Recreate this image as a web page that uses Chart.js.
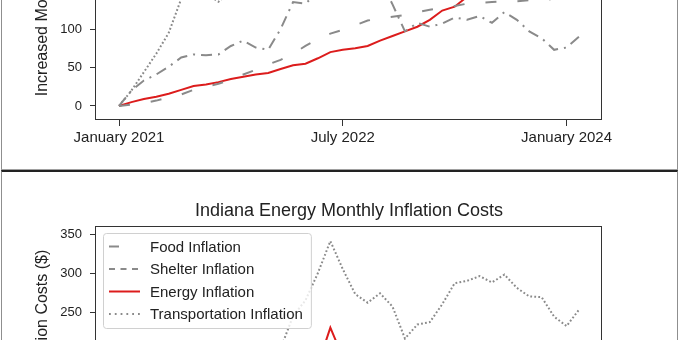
<!DOCTYPE html>
<html>
<head>
<meta charset="utf-8">
<title>Indiana Monthly Inflation Costs</title>
<script src="https://cdn.jsdelivr.net/npm/chart.js@4.4.1/dist/chart.umd.min.js"></script>
<style>
    body { margin: 0; width: 680px; height: 340px; overflow: hidden; background: #fff; position: relative; }
    .panel { position: absolute; left: 1px; width: 675px; background: #fff;
             border-left: 1px solid #8f8f8f; border-right: 1px solid #8f8f8f; }
    #p1 { top: -260px; height: 428px; border-top: 1px solid #8f8f8f; border-bottom: 1px solid #a0a0a0; }
    #p2 { top: 170px; height: 420px; border-top: 2px solid #222; }
    canvas { display: block; }
</style>
</head>
<body>
<div class="panel" id="p1"><canvas id="topChart" width="675" height="428"></canvas></div>
<div class="panel" id="p2"><canvas id="bottomChart" width="675" height="420"></canvas></div>
<script>
// monthly points, Jan 2021 .. Feb 2024
var months = ['Jan 2021','Feb 2021','Mar 2021','Apr 2021','May 2021','Jun 2021','Jul 2021','Aug 2021','Sep 2021','Oct 2021','Nov 2021','Dec 2021',
              'Jan 2022','Feb 2022','Mar 2022','Apr 2022','May 2022','Jun 2022','Jul 2022','Aug 2022','Sep 2022','Oct 2022','Nov 2022','Dec 2022',
              'Jan 2023','Feb 2023','Mar 2023','Apr 2023','May 2023','Jun 2023','Jul 2023','Aug 2023','Sep 2023','Oct 2023','Nov 2023','Dec 2023',
              'Jan 2024','Feb 2024'];
var tickIdx = [0, 18, 36];
var tickLabels = ['January 2021', 'July 2022', 'January 2024'];
var yTicks = [0, 50, 100, 150, 200, 250, 300, 350];
var seriesNames = ['Food Inflation', 'Shelter Inflation', 'Energy Inflation', 'Transportation Inflation'];

// upper chart (cropped at the top)
var foodTop    = [0, 20, 33, 41, 51, 63, 67, 66, 67, 78, 85, 76, 73, 100, 135, 133, 148, 160, 155, 150, 158, 165, 132, 97, 108, 103, 107, 115, 112, 117, 108, 122, 112, 97, 88, 73, 76, 90];
var shelterTop = [0, 2, 4, 7, 11, 15, 21, 25, 29, 34, 41, 47, 54, 60, 68, 78, 87, 94, 99, 105, 111, 114, 116, 118, 122, 125, 128, 130, 133, 134, 135, 136, 136, 137.5, 136, 140, 143, 146];
var energyTop  = [0, 5, 9, 12, 16, 21, 26, 28, 31, 35, 38, 41, 43, 48, 53, 55, 62, 70, 73, 75, 78, 85, 91, 97, 103, 112, 124, 129, 142, 148, 153, 160, 166, 172, 178, 184, 190, 196];
var transTop   = [0, 20, 44, 68, 95, 139, 152, 146, 135.5, 148, 175, 200, 228, 255, 280, 300, 330, 364, 340, 318, 305, 315, 300, 270, 280, 285, 300, 320, 325, 332, 325, 340, 320, 305, 300, 285, 270, 290];

// Indiana energy chart (cropped at the bottom)
var foodIN    = [0, 3, 6, 9, 14, 20, 26, 30, 35, 42, 50, 58, 66, 74, 80, 86, 92, 97, 102, 108, 112, 116, 118, 121, 124, 126, 128, 130, 132, 134, 136, 138, 140, 141, 143, 144, 145, 147];
var shelterIN = [0, 2, 5, 8, 12, 16, 20, 25, 30, 36, 42, 48, 54, 61, 68, 75, 82, 90, 97, 104, 110, 116, 122, 128, 134, 139, 144, 149, 153, 157, 161, 165, 168, 172, 175, 178, 181, 184];
var energyIN  = [0, 8, 15, 28, 40, 52, 60, 75, 90, 100, 112, 125, 130, 150, 160, 172, 182, 230, 192, 170, 140, 120, 95, 70, 60, 40, 20, 15, 5, -5, -17, -10, 0, 10, 5, -8, 10, 30];
var transIN   = [0, 15, 35, 60, 85, 110, 130, 145, 160, 172, 185, 195, 200, 203, 245, 265, 300, 341, 305, 273, 262, 274, 257, 216, 234, 237, 260, 287, 290, 296, 288, 298, 281, 270, 269, 244, 232, 253];

Chart.defaults.font.family = '"Liberation Sans", Arial, sans-serif';
Chart.defaults.color = '#222';

var GRAY = '#8a8a8a', RED = '#dc1c1c';

function points(arr) {
    return arr.map(function (v, i) { return { x: i, y: v }; });
}

function makeSets(vals, dashes) {
    var colors = [GRAY, GRAY, RED, GRAY];
    var legendDash = [[10, 100], [6, 5.5], [], [1.8, 4]];
    return vals.map(function (arr, k) {
        return {
            label: seriesNames[k],
            data: points(arr),
            borderColor: colors[k],
            borderWidth: 2,
            borderDash: dashes[k],
            legendDash: legendDash[k],
            pointRadius: 0,
            tension: 0,
            fill: false
        };
    });
}

// axes box + title centred over the axes (matplotlib style)
var framePlugin = {
    id: 'frame',
    afterDatasetsDraw: function (chart, args, opts) {
        var a = chart.chartArea, ctx = chart.ctx;
        ctx.save();
        ctx.strokeStyle = '#333';
        ctx.lineWidth = 1;
        ctx.strokeRect(Math.round(a.left) - 0.5, Math.round(a.top) + 0.5,
                       Math.round(a.right - a.left), Math.round(a.bottom - a.top) - 1);
        if (opts.title) {
            ctx.font = '18px "Liberation Sans", Arial, sans-serif';
            ctx.fillStyle = '#222';
            ctx.textAlign = 'center';
            ctx.textBaseline = 'middle';
            ctx.fillText(opts.title, (a.left + a.right) / 2, a.top - 15);
        }
        ctx.restore();
    }
};

// legend drawn inside the axes, over the lines
var boxLegend = {
    id: 'boxLegend',
    afterDraw: function (chart, args, opts) {
        if (!opts.show) return;
        var a = chart.chartArea, ctx = chart.ctx;
        var sets = chart.data.datasets;
        ctx.save();
        ctx.font = '15px "Liberation Sans", Arial, sans-serif';
        var w = 0;
        sets.forEach(function (d) { w = Math.max(w, ctx.measureText(d.label).width); });
        var x0 = a.left + 7, y0 = a.top + 7, bw = 47 + w + 8, bh = 95;
        ctx.beginPath();
        ctx.roundRect(x0 + 0.5, y0 + 0.5, bw, bh, 3);
        ctx.fillStyle = 'rgba(255,255,255,0.8)';
        ctx.fill();
        ctx.strokeStyle = '#d0d0d0';
        ctx.lineWidth = 1;
        ctx.stroke();
        sets.forEach(function (d, k) {
            var y = y0 + 13.5 + k * 22.5;
            ctx.beginPath();
            ctx.setLineDash(d.legendDash);
            ctx.strokeStyle = d.borderColor;
            ctx.lineWidth = 2;
            ctx.moveTo(x0 + 6, y);
            ctx.lineTo(x0 + 37, y);
            ctx.stroke();
            ctx.setLineDash([]);
            ctx.fillStyle = '#222';
            ctx.textBaseline = 'middle';
            ctx.fillText(d.label, x0 + 47, y + 1);
        });
        ctx.restore();
    }
};

function buildChart(id, sets, yMin, yMax, title, legend, xHeight, padTop) {
    return new Chart(document.getElementById(id), {
        type: 'line',
        data: { datasets: sets },
        plugins: [framePlugin, boxLegend],
        options: {
            responsive: false,
            animation: false,
            layout: { padding: { top: padTop, right: 75, left: 0, bottom: 0 } },
            plugins: {
                legend: { display: false },
                tooltip: { enabled: false },
                title: { display: false },
                frame: { title: title },
                boxLegend: { show: legend }
            },
            scales: {
                x: {
                    type: 'linear',
                    min: -1.85,
                    max: 38.85,
                    afterBuildTicks: function (s) {
                        s.ticks = tickIdx.map(function (v) { return { value: v }; });
                    },
                    afterFit: function (s) { s.height = xHeight; },
                    ticks: {
                        autoSkip: false, maxRotation: 0, padding: 3,
                        font: { size: 15 }, color: '#222',
                        callback: function (v) {
                            var k = tickIdx.indexOf(v);
                            return k >= 0 ? tickLabels[k] : '';
                        }
                    },
                    grid: { drawOnChartArea: false, drawTicks: true, tickLength: 6, color: '#333' },
                    border: { display: false }
                },
                y: {
                    min: yMin,
                    max: yMax,
                    afterBuildTicks: function (s) {
                        s.ticks = yTicks.filter(function (v) { return v >= yMin && v <= yMax; })
                                        .map(function (v) { return { value: v }; });
                    },
                    afterFit: function (s) { s.width = 94; },
                    ticks: { padding: 8, font: { size: 13 }, color: '#222' },
                    title: {
                        display: true,
                        text: 'Increased Monthly Inflation Costs ($)',
                        color: '#222',
                        font: { size: 16 },
                        padding: { top: 31.4, bottom: 0 }
                    },
                    grid: { drawOnChartArea: false, drawTicks: true, tickLength: 6, color: '#333' },
                    border: { display: false }
                }
            }
        }
    });
}

buildChart('topChart',
    makeSets([foodTop, shelterTop, energyTop, transTop], [[11, 6, 2, 6], [11, 21], [], [1.8, 2.2]]),
    -18.2, 382, '', false, 49, 71);

buildChart('bottomChart',
    makeSets([foodIN, shelterIN, energyIN, transIN], [[11, 6, 2, 6], [11, 21], [], [1.8, 2.2]]),
    -34.6, 360.3, 'Indiana Energy Monthly Inflation Costs', true, 58, 54);
</script>
</body>
</html>
